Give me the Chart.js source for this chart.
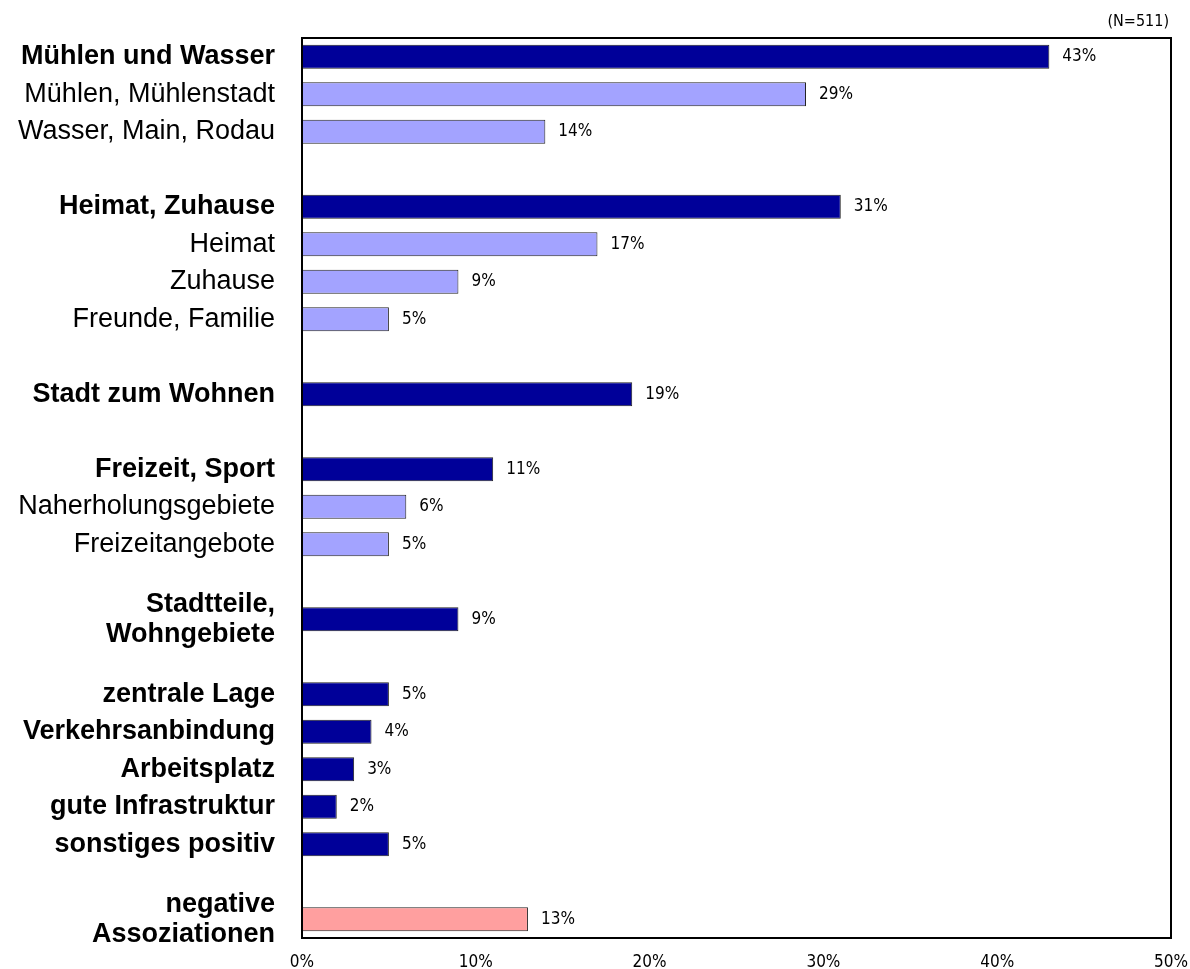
<!DOCTYPE html>
<html>
<head>
<meta charset="utf-8">
<script src="https://cdn.jsdelivr.net/npm/chart.js@4/dist/chart.umd.min.js"></script>
<style>
  html, body { margin: 0; padding: 0; background: #ffffff; }
  #wrap { width: 1190px; height: 969px; position: relative; }
</style>
</head>
<body>
<div id="wrap"><canvas id="c" width="1190" height="969"></canvas></div>
<script>
// ---- data ----
const categories = [
  'Mühlen und Wasser', 'Mühlen, Mühlenstadt', 'Wasser, Main, Rodau', '',
  'Heimat, Zuhause', 'Heimat', 'Zuhause', 'Freunde, Familie', '',
  'Stadt zum Wohnen', '',
  'Freizeit, Sport', 'Naherholungsgebiete', 'Freizeitangebote', '',
  ['Stadtteile,', 'Wohngebiete'], '',
  'zentrale Lage', 'Verkehrsanbindung', 'Arbeitsplatz', 'gute Infrastruktur', 'sonstiges positiv', '',
  ['negative', 'Assoziationen']
];
const values = [
  43, 29, 14, null,
  31, 17, 9, 5, null,
  19, null,
  11, 6, 5, null,
  9, null,
  5, 4, 3, 2, 5, null,
  13
];
const kinds = [
  'main', 'sub', 'sub', 'gap',
  'main', 'sub', 'sub', 'sub', 'gap',
  'main', 'gap',
  'main', 'sub', 'sub', 'gap',
  'main', 'gap',
  'main', 'main', 'main', 'main', 'main', 'gap',
  'neg'
];
const xTicks = [0, 10, 20, 30, 40, 50];
const sampleNote = '(N=511)';

const kindColors = { main: '#000099', sub: '#A3A3FF', neg: '#FF9F9F', gap: 'rgba(0,0,0,0)' };
const NARROW = "'Liberation Sans Narrow', 'Arial Narrow', 'DejaVu Sans Condensed', sans-serif";
const LABEL = "'Liberation Sans', Arial, sans-serif";

const overlay = {
  id: 'overlay',
  afterDatasetsDraw(chart) {
    const ctx = chart.ctx;
    const meta = chart.getDatasetMeta(0);
    ctx.save();
    ctx.fillStyle = '#000';
    ctx.font = '17px ' + NARROW;
    ctx.textAlign = 'left';
    ctx.textBaseline = 'middle';
    meta.data.forEach((bar, i) => {
      const v = values[i];
      if (v === null || v === undefined) return;
      ctx.fillText(v + '%', bar.x + 13, bar.y);
    });
    // plot frame
    const a = chart.chartArea;
    ctx.strokeStyle = '#000';
    ctx.lineWidth = 2;
    ctx.strokeRect(a.left, a.top, a.right - a.left, a.bottom - a.top);
    // sample note
    ctx.font = '16px ' + NARROW;
    ctx.textAlign = 'right';
    ctx.textBaseline = 'middle';
    ctx.fillText(sampleNote, a.right - 2, 22);
    ctx.restore();
  }
};

new Chart(document.getElementById('c'), {
  type: 'bar',
  data: {
    labels: categories,
    datasets: [{
      data: values,
      backgroundColor: kinds.map(k => kindColors[k]),
      borderColor: '#222',
      borderWidth: 1,
      borderSkipped: false,
      barPercentage: 0.64,
      categoryPercentage: 1.0
    }]
  },
  options: {
    indexAxis: 'y',
    responsive: false,
    animation: false,
    layout: { padding: { left: 0, right: 19, top: 38, bottom: 0 } },
    plugins: {
      legend: { display: false },
      tooltip: { enabled: false }
    },
    scales: {
      x: {
        min: 0, max: 50,
        afterBuildTicks(scale) { scale.ticks = xTicks.map(v => ({ value: v })); },
        afterFit(scale) { scale.height = 31; scale.paddingLeft = 0; scale.paddingRight = 0; },
        grid: { display: false, drawTicks: false },
        border: { display: false },
        ticks: {
          padding: 14,
          color: '#000',
          font: { family: NARROW, size: 17 },
          callback: v => v + '%',
          maxRotation: 0
        }
      },
      y: {
        afterFit(scale) { scale.width = 302; scale.paddingTop = 0; scale.paddingBottom = 0; },
        grid: { display: false, drawTicks: false },
        border: { display: false },
        ticks: {
          padding: 27,
          color: '#000',
          autoSkip: false,
          font: (c) => ({
            family: LABEL,
            size: 27,
            lineHeight: 1.1,
            weight: (kinds[c.index] === 'main' || kinds[c.index] === 'neg') ? 'bold' : 'normal'
          })
        }
      }
    }
  },
  plugins: [overlay]
});
</script>
</body>
</html>
